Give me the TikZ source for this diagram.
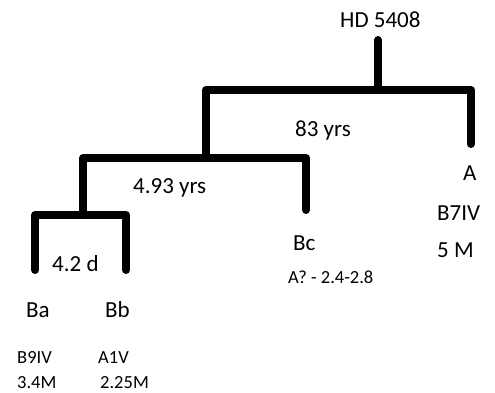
\documentclass[tikz,border=0pt]{standalone}
\usepackage{fontspec}
\setmainfont{Carlito}
\usetikzlibrary{positioning,calc}

\begin{document}
\begin{tikzpicture}[x=1pt,y=-1pt,
  bar/.style={line width=8pt,line cap=round,line join=round},
  lbl/.style={font=\fontsize{23}{26}\selectfont,inner sep=0pt,anchor=base west},
  note/.style={font=\fontsize{18.5}{21}\selectfont,inner sep=0pt,anchor=base west}]
\useasboundingbox (0,0) rectangle (495,393);
% tree corners
\coordinate (t0) at (378,40);
\coordinate (t1) at (378,90);
\coordinate (b1l) at (206,90);
\coordinate (b1r) at (471,90);
\coordinate (a0) at (471,144);
\coordinate (b2l) at (83,158);
\coordinate (b2r) at (306,158);
\coordinate (bc0) at (306,210);
\coordinate (b3l) at (35,215);
\coordinate (b3r) at (126,215);
\coordinate (ba0) at (35,270);
\coordinate (bb0) at (126,270);
\draw[bar] (t0) -- (t1);
\draw[bar] (b2l -| b1l) -- (b1l) -- (b1r) -- (a0);
\draw[bar] (b3l -| b2l) -- (b2l) -- (b2r) -- (bc0);
\draw[bar] (ba0) -- (b3l) -- (b3r) -- (bb0);
% labels
\node[lbl] (hd) at (340,28) {HD 5408};
\node[lbl] (p83) at (295,136) {83 yrs};
\node[lbl] (p493) at (133,193) {4.93 yrs};
\node[lbl] (p42) at (52,271) {4.2 d};
\node[lbl] (ba) at (26,317) {Ba};
\node[lbl] (bb) at (105,317) {Bb};
\node[note] (bat) at (17,363) {B9IV};
\node[note] (bam) at (17,388) {3.4M};
\node[note] (bbt) at (98,363) {A1V};
\node[note] (bbm) at (100,388) {2.25M};
\node[lbl] (bc) at (293,250) {Bc};
\node[note] (bct) at (288,283) {A? - 2.4-2.8};
\node[lbl] (a) at (463,180) {A};
\node[lbl] (at) at (437,220) {B7IV};
\node[lbl] (am) at (437,257) {5 M};
\end{tikzpicture}
\end{document}
